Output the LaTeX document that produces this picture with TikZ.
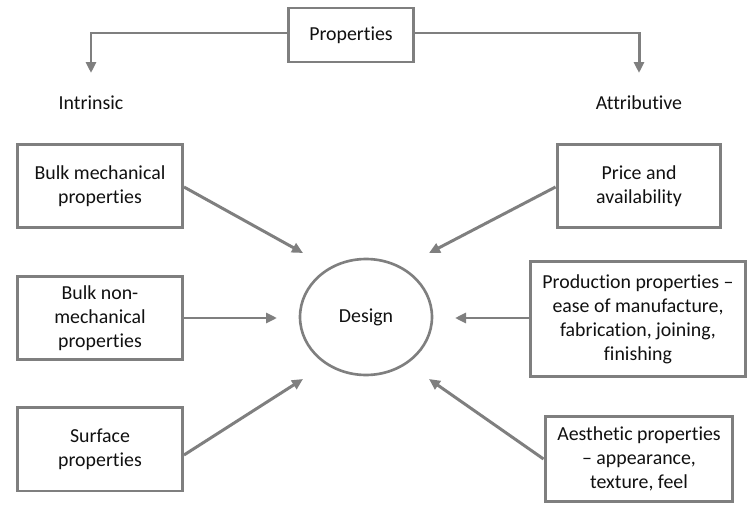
\documentclass[tikz,border=0pt]{standalone}
\usepackage{fontspec}
\setmainfont{Carlito}[Ligatures=NoCommon]
\usepackage{tikz}
\usetikzlibrary{arrows.meta,positioning,shapes.geometric,calc}
\definecolor{framegray}{HTML}{7F7F7F}
\definecolor{textdark}{HTML}{111111}
\tikzset{
  propbox/.style={rectangle,draw=framegray,line width=1.7pt,fill=white,
    align=center,text=textdark,inner sep=2pt},
  designnode/.style={ellipse,draw=framegray,line width=1.5pt,
    minimum width=2.64cm,minimum height=2.32cm,text=textdark},
  label/.style={text=textdark},
  feed/.style={-{Triangle[length=2.2mm,width=2mm]},line width=1.7pt,draw=framegray}
}

\begin{document}
\begin{tikzpicture}[x=0.02cm,y=-0.02cm,font=\fontsize{11.3}{13.6}\selectfont]
  \useasboundingbox (0,0) rectangle (754,517);
  % top of the tree
  \node[propbox,minimum width=2.5cm,minimum height=1.08cm] (props) at (351,35) {Properties};
  \node[label] (intr) at (91,103) {Intrinsic};
  \node[label] (attr) at (639,103) {Attributive};
  \draw[feed] (props.west |- 0,33) -| (91,73);
  \draw[feed] (props.east |- 0,33) -| (639,73);
  % centre
  \node[designnode] (design) at (366,317) {Design};
  % intrinsic side
  \node[propbox,minimum width=3.3cm,minimum height=1.68cm] (bulkmech) at (100,186) {Bulk mechanical\\properties};
  \node[propbox,minimum width=3.3cm,minimum height=1.66cm] (bulknon) at (100,318) {Bulk non-\\mechanical\\properties};
  \node[propbox,minimum width=3.3cm,minimum height=1.68cm] (surface) at (100,449) {Surface\\properties};
  % attributive side
  \node[propbox,minimum width=3.28cm,minimum height=1.68cm] (price) at (639,186) {Price and\\availability};
  \node[propbox,minimum width=4.3cm,minimum height=2.32cm] (product) at (638,319) {Production properties --\\ease of manufacture,\\fabrication, joining,\\finishing};
  \node[propbox,minimum width=3.76cm,minimum height=1.7cm] (aesth) at (639,459) {Aesthetic properties\\-- appearance,\\texture, feel};
  % arrow ends round the ellipse
  \coordinate (inNW) at (303,253);
  \coordinate (inW) at (277,318);
  \coordinate (inSW) at (303,379);
  \coordinate (inNE) at (429,253);
  \coordinate (inE) at (455,318);
  \coordinate (inSE) at (429,379);
  \draw[feed] (bulkmech.east |- 0,187) -- (inNW);
  \draw[feed] (bulknon.east |- inW) -- (inW);
  \draw[feed] (surface.east |- 0,455) -- (inSW);
  \draw[feed] (price.west |- 0,187) -- (inNE);
  \draw[feed] (product.west |- inE) -- (inE);
  \draw[feed] (aesth.west |- 0,459) -- (inSE);
\end{tikzpicture}
\end{document}
